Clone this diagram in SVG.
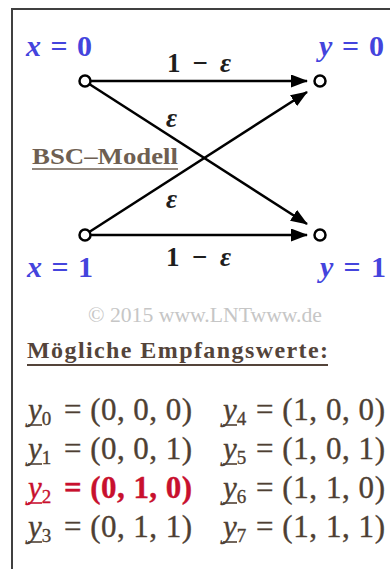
<svg xmlns="http://www.w3.org/2000/svg" width="390" height="569" viewBox="0 0 390 569">
<defs>
<style>
.lbl{font-family:"Liberation Serif","Times New Roman",serif;font-weight:bold;font-size:30px;fill:#4444dd}
.it{font-style:italic}
.eps{font-family:"Liberation Serif","Times New Roman",serif;font-weight:bold;font-size:27px;fill:#1e1e1e}
.row{font-family:"Liberation Serif","Times New Roman",serif;font-size:31px;fill:#4e3f33;stroke:#4e3f33;stroke-width:0.35}
.sub{font-size:19px}
.red{fill:#c8102e;stroke:#c8102e}
.ul{stroke:#4e3f33;stroke-width:1.6}
.ulr{stroke:#c8102e;stroke-width:1.6}
.edge{stroke:#000;stroke-width:2.5;fill:none;marker-end:url(#ah)}
.node{fill:#fff;stroke:#000;stroke-width:2.5}
</style>
<marker id="ah" markerUnits="userSpaceOnUse" markerWidth="17" markerHeight="13" refX="16" refY="6.5" orient="auto">
<path d="M0,0 L17,6.5 L0,13 Z" fill="#000"/>
</marker>
</defs>
<rect width="390" height="569" fill="#fff"/>
<rect x="12" y="9" width="400" height="600" fill="none" stroke="#404040" stroke-width="2"/>
<g id="edges">
<line class="edge" x1="91" y1="81" x2="307" y2="81"/>
<line class="edge" x1="90" y1="84.5" x2="307" y2="224"/>
<line class="edge" x1="90" y1="231.5" x2="307" y2="92"/>
<line class="edge" x1="91" y1="235" x2="307" y2="235"/>
<text class="eps" x="167" y="72" textLength="64" lengthAdjust="spacing">1 − <tspan class="it">ε</tspan></text>
<text class="eps it" x="166" y="127">ε</text>
<text class="eps it" x="166" y="208">ε</text>
<text class="eps" x="166" y="266" textLength="65" lengthAdjust="spacing">1 − <tspan class="it">ε</tspan></text>
</g>
<g id="x0">
<circle class="node" cx="85" cy="81" r="5.5"/>
<text class="lbl" x="26" y="56" textLength="66" lengthAdjust="spacing"><tspan class="it">x</tspan> = 0</text>
</g>
<g id="x1">
<circle class="node" cx="85" cy="235" r="5.5"/>
<text class="lbl" x="27" y="277" textLength="66" lengthAdjust="spacing"><tspan class="it">x</tspan> = 1</text>
</g>
<g id="y0">
<circle class="node" cx="320" cy="81" r="5.5"/>
<text class="lbl" x="319" y="56" textLength="65" lengthAdjust="spacing"><tspan class="it">y</tspan> = 0</text>
</g>
<g id="y1">
<circle class="node" cx="320" cy="235" r="5.5"/>
<text class="lbl" x="320" y="277" textLength="66" lengthAdjust="spacing"><tspan class="it">y</tspan> = 1</text>
</g>
<g id="bsc">
<text x="32" y="164" textLength="146" lengthAdjust="spacingAndGlyphs" font-family="Liberation Serif, serif" font-weight="bold" font-size="23" fill="#6e5f52">BSC–Modell</text>
<line x1="32" y1="169" x2="178" y2="169" stroke="#6e5f52" stroke-width="1.6"/>
</g>
<text x="88" y="322" textLength="234" lengthAdjust="spacingAndGlyphs" font-family="Liberation Serif, serif" font-size="20" fill="#c6c6c6">© 2015 www.LNTwww.de</text>
<g id="list">
<text x="27" y="358" textLength="301" lengthAdjust="spacing" font-family="Liberation Serif, serif" font-weight="bold" font-size="24" fill="#54443a">Mögliche Empfangswerte:</text>
<line x1="27" y1="365" x2="328" y2="365" stroke="#54443a" stroke-width="1.8"/>

<text class="row" x="28" y="420"><tspan class="it">y</tspan><tspan class="sub" dy="5">0</tspan></text>
<line class="ul" x1="28" y1="425" x2="42" y2="425"/>
<text class="row" x="64" y="420" textLength="128" lengthAdjust="spacing">= (0, 0, 0)</text>
<text class="row" x="223" y="420"><tspan class="it">y</tspan><tspan class="sub" dy="5">4</tspan></text>
<line class="ul" x1="223" y1="425" x2="237" y2="425"/>
<text class="row" x="256" y="420" textLength="129" lengthAdjust="spacing">= (1, 0, 0)</text>

<text class="row" x="28" y="459"><tspan class="it">y</tspan><tspan class="sub" dy="5">1</tspan></text>
<line class="ul" x1="28" y1="464" x2="42" y2="464"/>
<text class="row" x="64" y="459" textLength="128" lengthAdjust="spacing">= (0, 0, 1)</text>
<text class="row" x="223" y="459"><tspan class="it">y</tspan><tspan class="sub" dy="5">5</tspan></text>
<line class="ul" x1="223" y1="464" x2="237" y2="464"/>
<text class="row" x="256" y="459" textLength="129" lengthAdjust="spacing">= (1, 0, 1)</text>

<text class="row red" x="28" y="498"><tspan class="it">y</tspan><tspan class="sub" dy="5">2</tspan></text>
<line class="ulr" x1="28" y1="503" x2="42" y2="503"/>
<text class="row red" x="64" y="498" textLength="128" lengthAdjust="spacing" font-weight="bold">= (0, 1, 0)</text>
<text class="row" x="223" y="498"><tspan class="it">y</tspan><tspan class="sub" dy="5">6</tspan></text>
<line class="ul" x1="223" y1="503" x2="237" y2="503"/>
<text class="row" x="256" y="498" textLength="129" lengthAdjust="spacing">= (1, 1, 0)</text>

<text class="row" x="28" y="537"><tspan class="it">y</tspan><tspan class="sub" dy="5">3</tspan></text>
<line class="ul" x1="28" y1="542" x2="42" y2="542"/>
<text class="row" x="64" y="537" textLength="128" lengthAdjust="spacing">= (0, 1, 1)</text>
<text class="row" x="223" y="537"><tspan class="it">y</tspan><tspan class="sub" dy="5">7</tspan></text>
<line class="ul" x1="223" y1="542" x2="237" y2="542"/>
<text class="row" x="256" y="537" textLength="129" lengthAdjust="spacing">= (1, 1, 1)</text>
</g>
</svg>
